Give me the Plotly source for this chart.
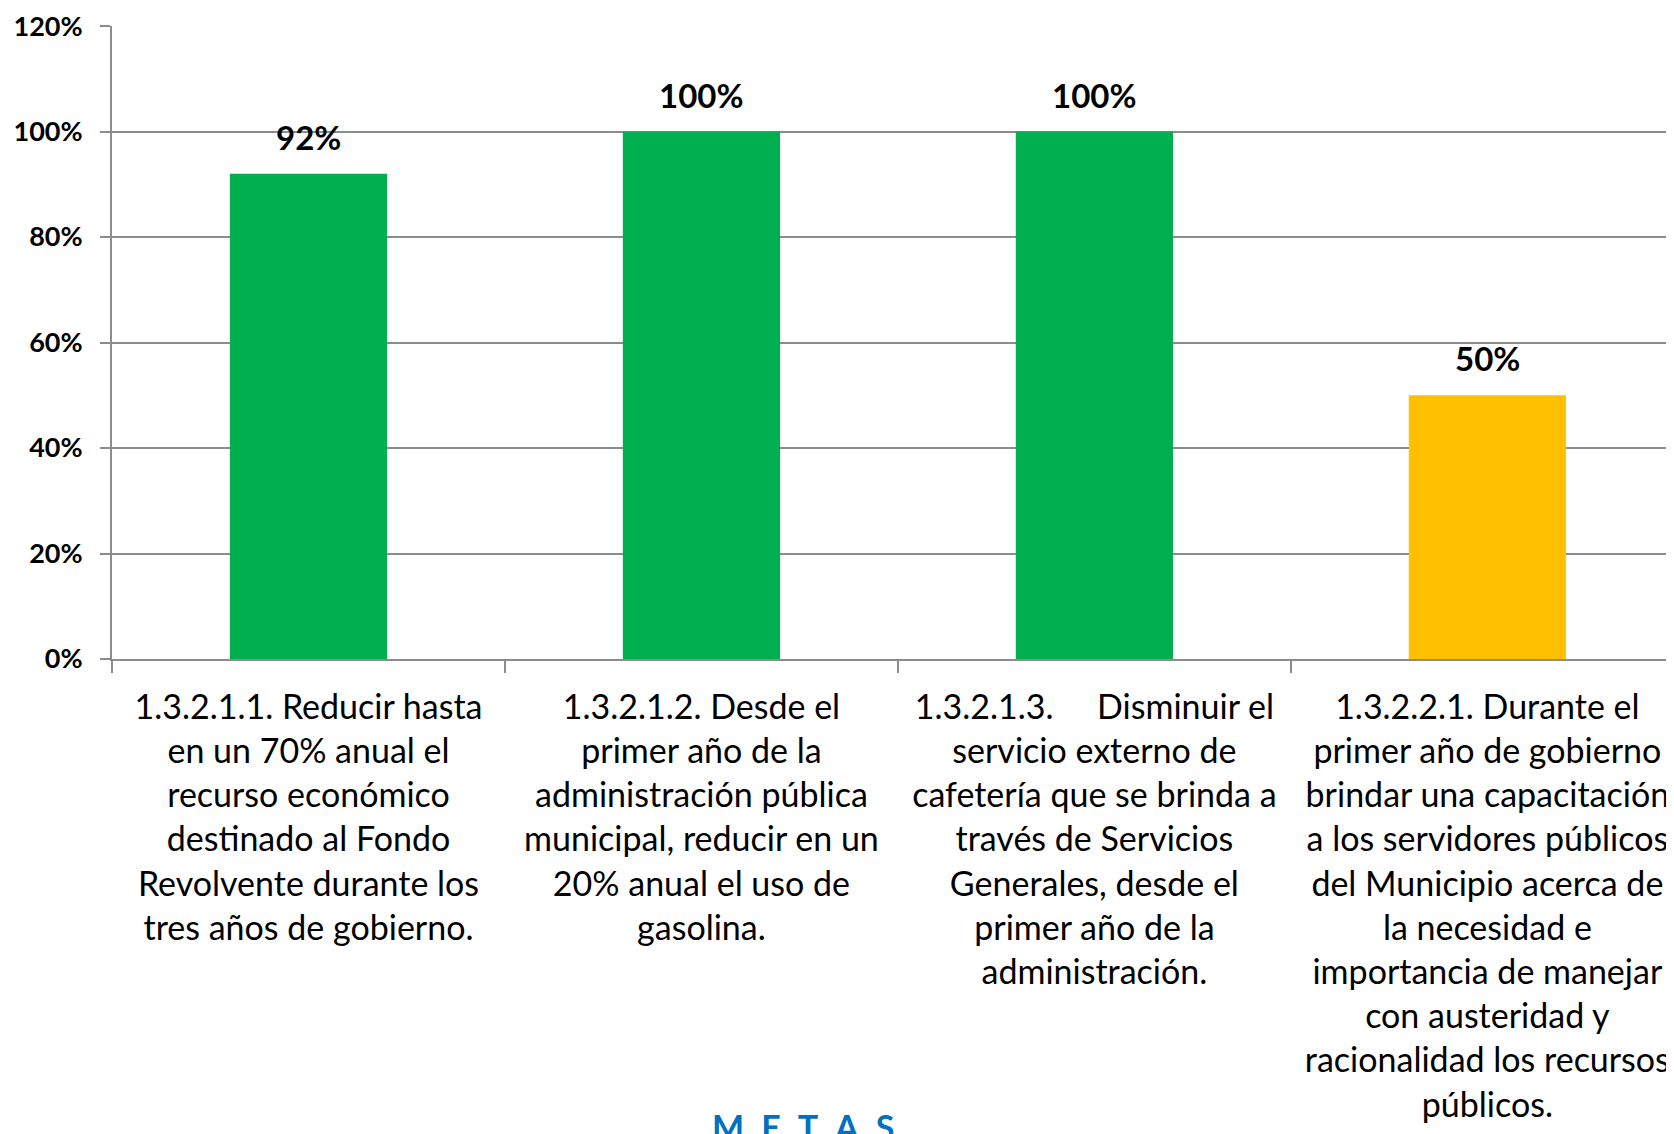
import plotly.graph_objects as go

# --- data ---
metas = [
    "1.3.2.1.1. Reducir hasta<br>en un 70% anual el<br>recurso económico<br>destinado al Fondo<br>Revolvente durante los<br>tres años de gobierno.",
    "1.3.2.1.2. Desde el<br>primer año de la<br>administración pública<br>municipal, reducir en un<br>20% anual el uso de<br>gasolina.",
    "1.3.2.1.3.\u00a0\u00a0\u00a0\u00a0\u00a0Disminuir el<br>servicio externo de<br>cafetería que se brinda a<br>través de Servicios<br>Generales, desde el<br>primer año de la<br>administración.",
    "1.3.2.2.1. Durante el<br>primer año de gobierno<br>brindar una capacitación<br>a los servidores públicos<br>del Municipio acerca de<br>la necesidad e<br>importancia de manejar<br>con austeridad y<br>racionalidad los recursos<br>públicos.",
]
avance = [0.92, 1.00, 1.00, 0.50]
colores = ["#00B050", "#00B050", "#00B050", "#FFC000"]
y_ticks = [0, 0.2, 0.4, 0.6, 0.8, 1.0, 1.2]

FONT = "Lato"

fig = go.Figure()

fig.add_trace(go.Bar(
    x=metas,
    y=avance,
    marker=dict(color=colores, line=dict(width=0)),
    width=0.4,
    showlegend=False,
))

# data labels above each bar
for m, v in zip(metas, avance):
    fig.add_annotation(
        x=m, y=v, text=f"{v:.0%}",
        showarrow=False, yanchor="bottom", yshift=15,
        font=dict(family=FONT, size=33, color="black", weight="bold"),
    )

# axis title (bottom, partly cut off)
fig.add_annotation(
    text="M\u2002E\u2002T\u2002A\u2002S",
    xref="paper", yref="paper", x=0.4424, y=-0.703,
    xanchor="center", yanchor="top", showarrow=False,
    font=dict(family=FONT, size=34, color="#0070C0", weight="bold"),
)

# page body has an 8px margin, so the figure is offset by 8px
fig.update_layout(
    width=1666,
    height=1126,
    margin=dict(l=104, r=0, t=15, b=475),
    paper_bgcolor="white",
    plot_bgcolor="white",
    xaxis=dict(
        type="category",
        range=[-0.5, 3.475],
        showline=True,
        linecolor="#8C8C8C",
        linewidth=2,
        ticks="outside",
        tickson="boundaries",
        ticklen=12,
        tickwidth=2,
        tickcolor="#8C8C8C",
        showgrid=False,
        ticklabelstandoff=17,
        tickfont=dict(family=FONT, size=34, color="black"),
    ),
    yaxis=dict(
        range=[0, 1.2001],
        tickvals=y_ticks,
        tickformat=".0%",
        showline=True,
        linecolor="#8C8C8C",
        linewidth=2,
        ticks="outside",
        ticklen=10,
        tickwidth=2,
        tickcolor="#8C8C8C",
        showgrid=True,
        gridcolor="#8C8C8C",
        gridwidth=2,
        zeroline=False,
        ticklabelstandoff=12,
        ticklabeloverflow="allow",
        tickfont=dict(family=FONT, size=27, color="black", weight="bold"),
    ),
)

fig.write_html("out.html")
